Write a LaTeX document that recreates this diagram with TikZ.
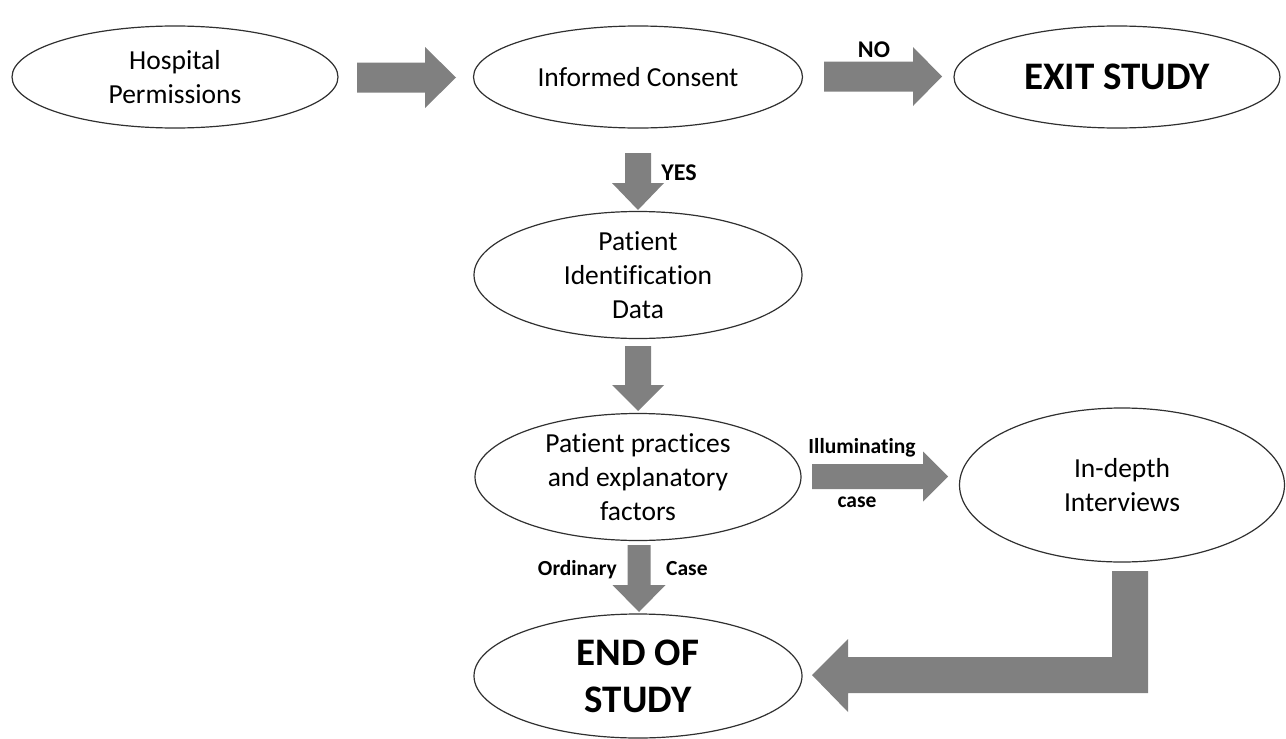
\documentclass[tikz,border=0pt]{standalone}
\usepackage{fontspec}
\setmainfont{Carlito}[Ligatures=NoCommon]
\usetikzlibrary{shapes.geometric,calc}
\definecolor{flowgray}{HTML}{808080}
\definecolor{rim}{HTML}{303030}

% horizontal block arrow: tail, tip, half body, half head, head length
\newcommand\blockright[5]{%
  \fill[flow] let \p1=(#1), \p2=(#2) in
    (\x1,\y2+#3) -- (\x2-#5,\y2+#3) -- (\x2-#5,\y2+#4) -- (\x2,\y2)
    -- (\x2-#5,\y2-#4) -- (\x2-#5,\y2-#3) -- (\x1,\y2-#3) -- cycle;}
% downward block arrow: tail, tip, half body, half head, head length
\newcommand\blockdown[5]{%
  \fill[flow] let \p1=(#1), \p2=(#2) in
    (\x2-#3,\y1) -- (\x2-#3,\y2+#5) -- (\x2-#4,\y2+#5) -- (\x2,\y2)
    -- (\x2+#4,\y2+#5) -- (\x2+#3,\y2+#5) -- (\x2+#3,\y1) -- cycle;}

\tikzset{
  stage/.style={ellipse, draw=rim, line width=1.2pt, inner sep=0pt, align=center,
    font=\fontsize{27.5}{34}\selectfont},
  bigstage/.style={stage, font=\fontsize{39}{47}\selectfont\bfseries},
  flow/.style={fill=flowgray},
  tag/.style={font=\fontsize{21.5}{26}\selectfont\bfseries, inner sep=0pt, anchor=base},
  bigtag/.style={tag, font=\fontsize{24}{29}\selectfont\bfseries},
}

\begin{document}
\begin{tikzpicture}[x=1pt,y=-1pt]
\useasboundingbox[fill=white] (0,0) rectangle (1286,739);

% stages
\node[stage, minimum width=326, minimum height=102] (hosp) at (175,77) {Hospital\\Permissions};
\node[stage, minimum width=329, minimum height=102] (cons) at (638,77) {Informed Consent};
\node[bigstage, minimum width=326, minimum height=102] (exit) at (1117,77) {EXIT STUDY};
\node[stage, minimum width=328, minimum height=127] (pid) at (638,275) {Patient\\Identification\\Data};
\node[stage, minimum width=326, minimum height=127] (ppe) at (638,477) {Patient practices\\and explanatory\\factors};
\node[stage, minimum width=325, minimum height=154] (idi) at (1122,485) {In-depth\\Interviews};
\node[bigstage, minimum width=328, minimum height=124] (end) at (638,676) {END OF\\STUDY};

% arrow end points
\coordinate (a1s) at (357,77.5);  \coordinate (a1e) at (456,77.5);
\coordinate (a2s) at (824,76.5);  \coordinate (a2e) at (942,76.5);
\coordinate (a3s) at (638,153);   \coordinate (a3e) at (638,210);
\coordinate (a4s) at (638,346);   \coordinate (a4e) at (638,411);
\coordinate (a5s) at (812,476.5); \coordinate (a5e) at (948,476.5);
\coordinate (a6s) at (639,545);   \coordinate (a6e) at (639,612);

% block arrows
\blockright{a1s}{a1e}{15pt}{30.5pt}{31pt}
\blockright{a2s}{a2e}{15pt}{29.5pt}{29pt}
\blockdown{a3s}{a3e}{13pt}{26pt}{27pt}
\blockdown{a4s}{a4e}{13pt}{26pt}{26pt}
\blockright{a5s}{a5e}{12.5pt}{25pt}{25pt}
\blockdown{a6s}{a6e}{11.5pt}{26.5pt}{27pt}

% bent arrow from the interviews back to the end of study
\coordinate (bendtip) at (812,675);
\fill[flow] (1112,571) -- (1148,571) -- (1148,693) -- (848,693) -- (848,712)
  -- (bendtip) -- (848,639) -- (848,657) -- (1112,657) -- cycle;

% arrow labels
\node[bigtag] (no) at (874,57) {NO};
\node[bigtag] (yes) at (679,180) {YES};
\node[tag] (illum) at (862,453) {Illuminating};
\node[tag] (illcase) at (857,507) {case};
\node[tag, anchor=base east] (ord) at (617,575) {Ordinary};
\node[tag, anchor=base west] (ordcase) at (666,575) {Case};
\end{tikzpicture}
\end{document}
